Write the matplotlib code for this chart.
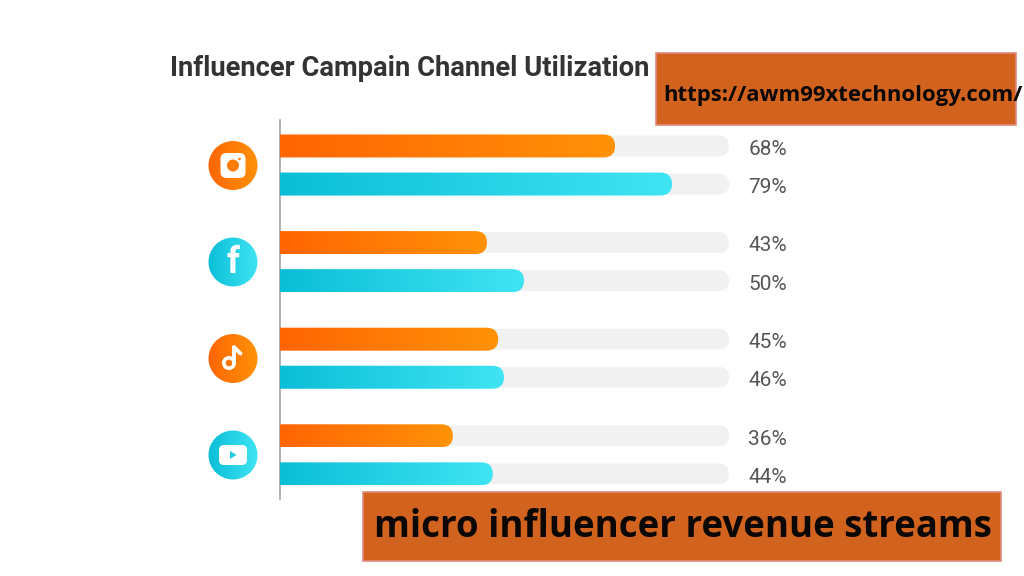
import numpy as np
import matplotlib
matplotlib.use("Agg")
import matplotlib.pyplot as plt
from matplotlib.colors import LinearSegmentedColormap
from matplotlib.patches import Circle, FancyBboxPatch, Polygon, Rectangle

# data
channels = ["Instagram", "Facebook", "TikTok", "YouTube"]
orange_labels = ["68%", "43%", "45%", "36%"]
cyan_labels = ["79%", "50%", "46%", "44%"]
# the drawn lengths don't quite agree with the printed numbers
orange_lengths = [68.8, 42.5, 44.8, 35.5]
cyan_lengths = [80.5, 50.1, 46.0, 43.7]
track_length = 92.2

title = "Influencer Campain Channel Utilization"
url_text = "https://awm99xtechnology.com/"
keyword_text = "micro influencer revenue streams"

W, H = 1024, 576
PX_PER_UNIT = 4.87
GROUP_PX = 96.6
ASPECT = PX_PER_UNIT / GROUP_PX

orange_map = LinearSegmentedColormap.from_list("o", ["#FF6503", "#FF9208"])
cyan_map = LinearSegmentedColormap.from_list("c", ["#0ABED7", "#40E4F3"])
gradient = np.linspace(0, 1, 256).reshape(1, -1)

fig = plt.figure(figsize=(W / 100, H / 100), dpi=100, facecolor="white")

# chart axes: x in percent units, y in channel groups
ax = fig.add_axes([280 / W, 1 - 499 / H, 520 / W, 379 / H])
ax.patch.set_alpha(0)


def rounded_bar(y, length, height, **kw):
    # starts left of zero so only the right end shows as rounded
    r = height / 2 / ASPECT
    box = FancyBboxPatch((-4, y - height / 2), length + 4, height,
                         boxstyle=f"round,pad=0,rounding_size={r}",
                         mutation_aspect=ASPECT, linewidth=0, **kw)
    ax.add_patch(box)
    return box


def draw_bar(y, length, cmap):
    rounded_bar(y, track_length, 0.215, facecolor="#F1F1F1", zorder=1)
    box = rounded_bar(y, length, 0.238, facecolor="none", zorder=2)
    im = ax.imshow(gradient, cmap=cmap, aspect="auto", zorder=3,
                   extent=(0, length, y + 0.12, y - 0.12))
    im.set_clip_path(box)


for i in range(len(channels)):
    y_top = i - 0.197
    y_bottom = i + 0.197
    draw_bar(y_top, orange_lengths[i], orange_map)
    draw_bar(y_bottom, cyan_lengths[i], cyan_map)
    ax.text(96.2, y_top + 0.035, orange_labels[i], va="center", ha="left",
            fontsize=15, color="#555555", family="Roboto")
    ax.text(96.2, y_bottom + 0.035, cyan_labels[i], va="center", ha="left",
            fontsize=15, color="#555555", family="Roboto")

ax.set_xlim(0, 520 / PX_PER_UNIT)
ax.set_ylim(379 / GROUP_PX - 0.466, -0.466)
for side in ["top", "right", "bottom"]:
    ax.spines[side].set_visible(False)
ax.spines["left"].set_color("#A3A3A3")
ax.spines["left"].set_linewidth(1.2)
ax.set_xticks([])
ax.set_yticks([])

# overlay in pixel coordinates for icons, title and the two banners
top = fig.add_axes([0, 0, 1, 1])
top.patch.set_alpha(0)
top.set_axis_off()


def icon_disc(cy, cmap):
    disc = Circle((233, cy), 24.5, linewidth=0, facecolor="none")
    top.add_patch(disc)
    im = top.imshow(gradient, cmap=cmap, aspect="auto", zorder=1,
                    extent=(208, 258, cy + 25, cy - 25))
    im.set_clip_path(disc)


def round_rect(x, y, w, h, r, color, z=2):
    top.add_patch(FancyBboxPatch((x + r, y + r), w - 2 * r, h - 2 * r,
                                 boxstyle=f"round,pad={r},rounding_size={r}",
                                 facecolor=color, linewidth=0, zorder=z))


icon_y = [165.5, 262, 358.5, 455]

# instagram
icon_disc(icon_y[0], orange_map)
round_rect(220.5, icon_y[0] - 12.5, 25, 25, 6, "white")
top.add_patch(Circle((233, icon_y[0]), 6, facecolor="#FF7C05", linewidth=0, zorder=3))
top.add_patch(Circle((239.5, icon_y[0] - 6.5), 1.3, facecolor="#FF7C05", linewidth=0, zorder=3))

# facebook
icon_disc(icon_y[1], cyan_map)
top.text(233, icon_y[1] + 1, "f", color="white", fontsize=26, fontweight="bold",
         family="Roboto", ha="center", va="center", zorder=3)

# tiktok
icon_disc(icon_y[2], orange_map)
cy = icon_y[2]
top.add_patch(Circle((229, cy + 4.5), 5.2, facecolor="none", edgecolor="white",
                     linewidth=2.6, zorder=3))
top.plot([234.2, 234.2], [cy + 4.5, cy - 12], color="white", lw=2.8,
         solid_capstyle="round", zorder=3)
top.plot([234.2, 240.5], [cy - 11, cy - 5], color="white", lw=2.8,
         solid_capstyle="round", zorder=3)

# youtube
icon_disc(icon_y[3], cyan_map)
round_rect(219, icon_y[3] - 10, 28, 20, 5, "white")
top.add_patch(Polygon([[230, icon_y[3] - 4], [230, icon_y[3] + 4], [236.5, icon_y[3]]],
                      facecolor="#22CDE2", linewidth=0, zorder=3))

top.text(170, 69, title, fontsize=19.7, color="#333333", family="Roboto",
         fontweight="bold", va="center", ha="left", zorder=5)

# banners
banner_fill = "#D2631F"
banner_edge = "#E0897C"
top.add_patch(Rectangle((655.5, 52.5), 360, 72, facecolor=banner_fill,
                        edgecolor=banner_edge, linewidth=1.2, zorder=6))
top.text(663, 95, url_text, fontsize=15.9, fontweight="bold", family="Open Sans",
         color="#0A0705", va="center", ha="left", zorder=7)
top.add_patch(Rectangle((362.5, 491.5), 638, 69, facecolor=banner_fill,
                        edgecolor=banner_edge, linewidth=1.2, zorder=6))
top.text(374, 527, keyword_text, fontsize=26.4, fontweight="bold", family="Open Sans",
         color="#0A0705", va="center", ha="left", zorder=7)

top.set_xlim(0, W)
top.set_ylim(H, 0)

fig.savefig("out.png", dpi=100)
